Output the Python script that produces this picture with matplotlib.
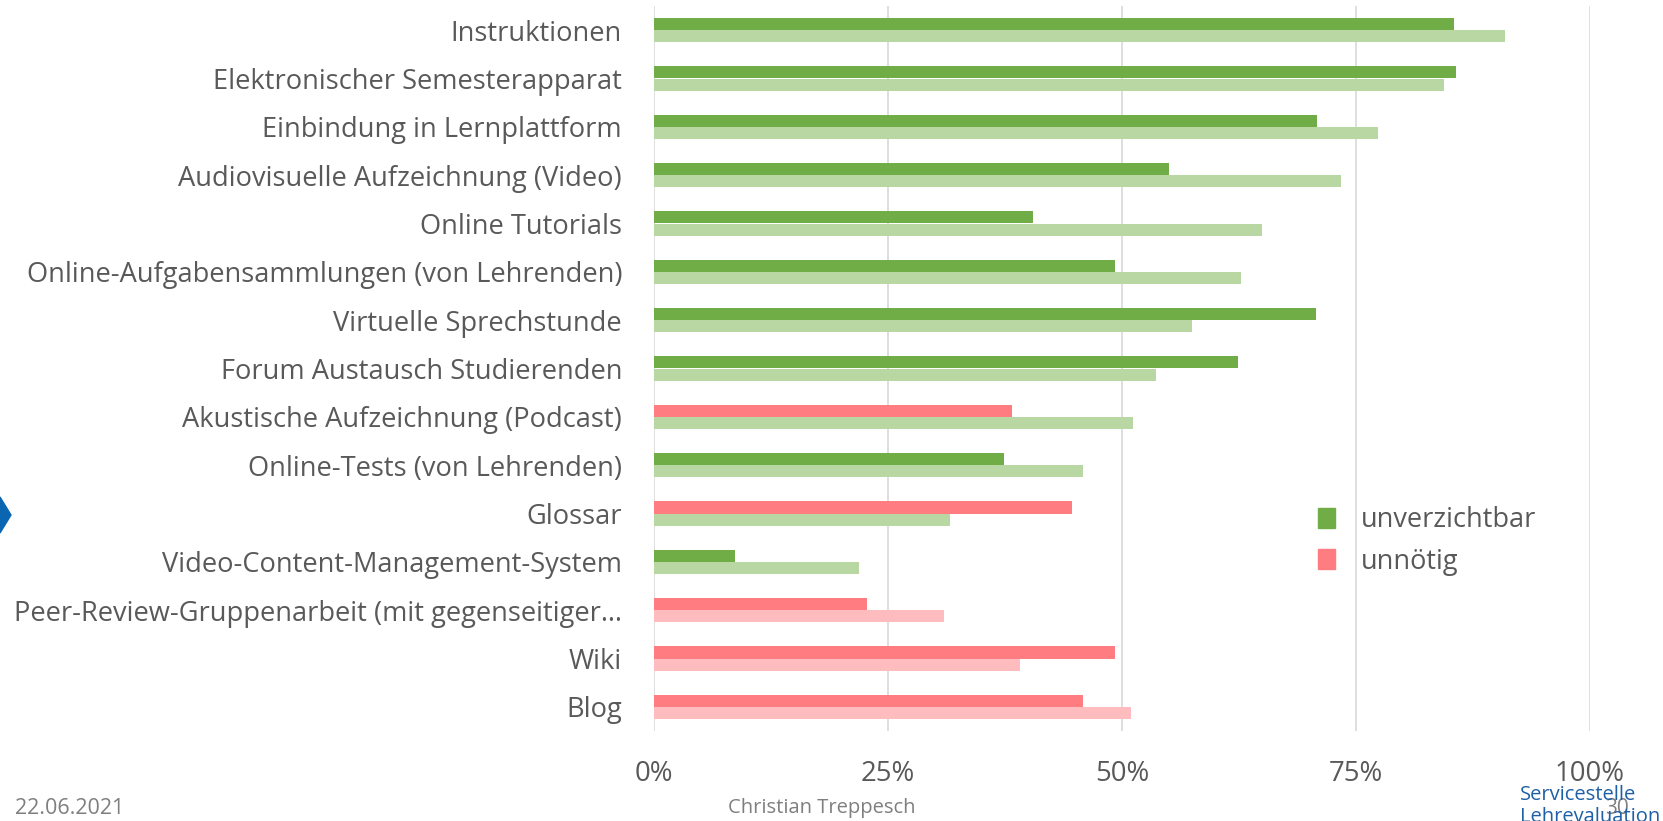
#! /usr/bin/env python3
import numpy as np
import matplotlib
matplotlib.use('Agg')
import matplotlib.pyplot as plt
from matplotlib.patches import Patch, Polygon

categories = ['Instruktionen', 'Elektronischer Semesterapparat', 'Einbindung in Lernplattform',
              'Audiovisuelle Aufzeichnung (Video)', 'Online Tutorials',
              'Online-Aufgabensammlungen (von Lehrenden)', 'Virtuelle Sprechstunde',
              'Forum Austausch Studierenden', 'Akustische Aufzeichnung (Podcast)',
              'Online-Tests (von Lehrenden)', 'Glossar', 'Video-Content-Management-System',
              'Peer-Review-Gruppenarbeit (mit gegenseitiger\u2026', 'Wiki', 'Blog']
# upper bar of each pair
top_values = [85.5, 85.7, 70.8, 55.0, 40.5, 49.2, 70.7, 62.4, 38.2, 37.4, 44.7, 8.7, 22.8, 49.2, 45.8]
top_kind = ['u', 'u', 'u', 'u', 'u', 'u', 'u', 'u', 'n', 'u', 'n', 'u', 'n', 'n', 'n']
# lower (lighter) bar of each pair
bottom_values = [90.9, 84.4, 77.4, 73.4, 65.0, 62.7, 57.5, 53.6, 51.2, 45.8, 31.6, 21.9, 31.0, 39.1, 51.0]
bottom_kind = ['u', 'u', 'u', 'u', 'u', 'u', 'u', 'u', 'u', 'u', 'u', 'u', 'n', 'n', 'n']
xticks = [0, 25, 50, 75, 100]
xticklabels = ['0%', '25%', '50%', '75%', '100%']

dark = {'u': '#70AD47', 'n': '#FF7C80'}
light = {'u': '#B8D7A3', 'n': '#FFBCBE'}
txt = '#595959'
plt.rcParams['font.family'] = ['Open Sans', 'DejaVu Sans']

W, H = 1663, 821
fig = plt.figure(figsize=(W / 100, H / 100), dpi=100)
ax = fig.add_axes([654 / W, 1 - 731 / H, (1590 - 654) / W, (731 - 6) / H])

y = np.arange(len(categories))
h = 0.255
ax.barh(y - h / 2, top_values, height=h, color=[dark[k] for k in top_kind], zorder=3)
ax.barh(y + h / 2, bottom_values, height=h, color=[light[k] for k in bottom_kind], zorder=3)

ax.set_ylim(len(categories) - 0.5, -0.5)
ax.set_xlim(0, 100)
ax.set_yticks(y)
ax.set_yticklabels(categories, fontsize=19.6, color=txt)
ax.set_xticks(xticks)
ax.set_xticklabels(xticklabels, fontsize=19.8, color=txt)
ax.tick_params(axis='y', length=0, pad=23)
ax.tick_params(axis='x', length=0, pad=21)
ax.grid(axis='x', color='#D9D9D9', linewidth=1.2, zorder=0)
for s in ax.spines.values():
    s.set_visible(False)

handles = [Patch(color=dark['u'], label='unverzichtbar'), Patch(color=dark['n'], label='unnötig')]
leg = fig.legend(handles=handles, loc='center left', bbox_to_anchor=(1318 / W, 1 - 541 / H),
                 frameon=False, fontsize=19.5, handlelength=0.62, handleheight=0.75,
                 handletextpad=0.95, labelspacing=0.5, borderaxespad=0, borderpad=0)
for t in leg.get_texts():
    t.set_color(txt)

# footer
fig.text(15 / W, 1 - 808 / H, '22.06.2021', fontsize=15.5, color='#7F7F7F', va='center')
fig.text(822 / W, 1 - 808 / H, 'Christian Treppesch', fontsize=14.5, color='#7F7F7F', va='center', ha='center')
fig.text(1617 / W, 1 - 808 / H, '30', fontsize=15, color='#7F7F7F', va='center', ha='center')
fig.text(1520 / W, 1 - 795 / H, 'Servicestelle', fontsize=14.5, color='#1F5FA6', va='center')
fig.text(1520 / W, 1 - 817 / H, 'Lehrevaluation', fontsize=14.5, color='#1F5FA6', va='center')
fig.patches.append(Polygon([[0, 1 - 497 / H], [0, 1 - 533 / H], [11 / W, 1 - 515 / H]],
                           closed=True, transform=fig.transFigure, color='#0A66B0'))

plt.savefig('out.png', dpi=100)
